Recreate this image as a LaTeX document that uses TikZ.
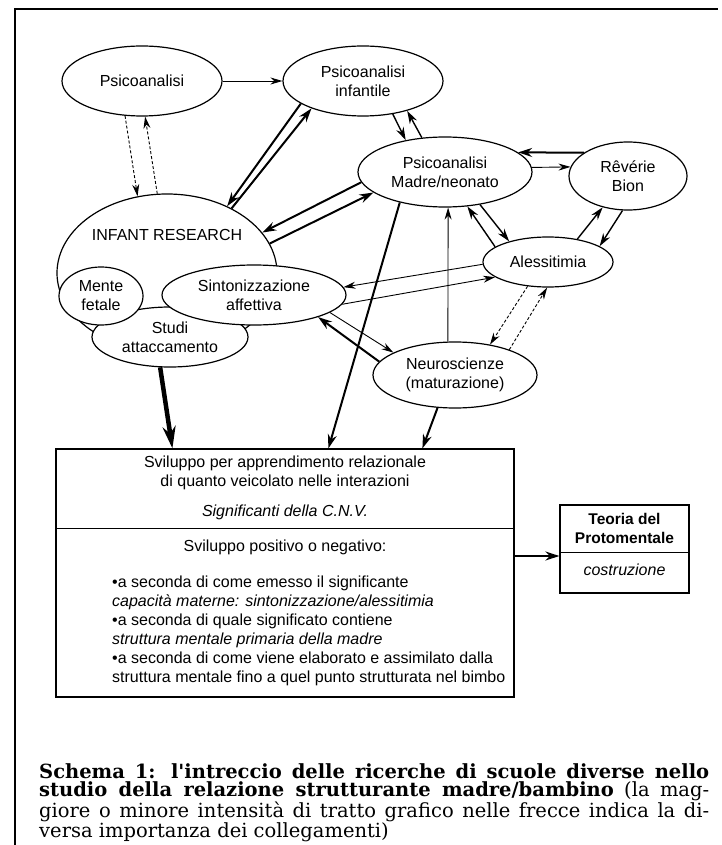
\documentclass[tikz,border=0pt]{standalone}
\usepackage{fontspec}
\setmainfont{Liberation Sans}
\newfontfamily\capfont{DejaVu Serif}
\usetikzlibrary{arrows.meta,shapes.geometric,calc}
\begin{document}
\begin{tikzpicture}[x=1pt,y=-1pt,
  every node/.style={font=\fontsize{16}{19}\selectfont},
  ell/.style={draw, ellipse, fill=white, line width=1.2pt, inner sep=0pt, align=center},
  boxx/.style={draw, rectangle, line width=1.2pt, inner sep=0pt},
  arrthin/.style={line width=0.9pt, -{Stealth[length=12pt,width=7pt]}},
  arrmid/.style={line width=1.4pt, -{Stealth[length=13pt,width=8pt]}},
  arrbold/.style={line width=2pt, -{Stealth[length=14pt,width=9pt]}},
  arrheavy/.style={line width=4.5pt, -{Stealth[length=22pt,width=13pt]}},
  arrdash/.style={line width=0.9pt, dash pattern=on 3pt off 2pt, -{Stealth[length=12pt,width=7pt]}},
]
\useasboundingbox (0,0) rectangle (721,845);
% frame
\draw[line width=1.3pt] (15,845) -- (15,9) -- (718,9);

% ellipses
\node[ell, minimum width=160pt, minimum height=70pt] (ps) at (142,81) {Psicoanalisi};
\node[ell, minimum width=160pt, minimum height=70pt] (psi) at (363,81) {Psicoanalisi\\infantile};
\node[ell, minimum width=174pt, minimum height=70pt] (pmn) at (445,172) {Psicoanalisi\\Madre/neonato};
\node[ell, minimum width=118pt, minimum height=68pt] (rb) at (628,176) {Rêvérie\\Bion};
\node[ell, minimum width=130pt, minimum height=50pt] (al) at (548,262) {Alessitimia};
\node[ell, minimum width=164pt, minimum height=66pt] (ne) at (455,375) {Neuroscienze\\(maturazione)};
\node[ell, minimum width=220pt, minimum height=158pt] (ir) at (167,273) {};
\node (irl) at (167,235) {INFANT RESEARCH};
\node[ell, minimum width=156pt, minimum height=60pt] (st) at (170,337) {Studi\\attaccamento};
\node[ell, minimum width=84pt, minimum height=58pt] (mf) at (101,296) {Mente\\fetale};
\node[ell, minimum width=184pt, minimum height=60pt] (sa) at (254,295) {Sintonizzazione\\affettiva};

% main box
\node[boxx, minimum width=458pt, minimum height=248pt] (main) at (285,573) {};
\draw[line width=1.2pt] ([yshift=-80pt]main.north west) -- ([yshift=-80pt]main.north east);
\node[align=center] (t1) at (285,472.5) {Sviluppo per apprendimento relazionale\\di quanto veicolato nelle interazioni};
\node (t2) at (285,512) {\itshape Significanti della C.N.V.};
\node (t3) at (285,547) {Sviluppo positivo o negativo:};
\node[anchor=west, align=left, inner sep=0pt] (t4) at (112,631) {\textbullet a seconda di come emesso il significante\\
\itshape capacità materne: sintonizzazione/alessitimia\\
\textbullet a seconda di quale significato contiene\\
\itshape struttura mentale primaria della madre\\
\textbullet a seconda di come viene elaborato e assimilato dalla\\
struttura mentale fino a quel punto strutturata nel bimbo};

% teoria box
\node[boxx, minimum width=129pt, minimum height=88pt] (teo) at (624.5,549) {};
\draw[line width=1.2pt] ([yshift=-48pt]teo.north west) -- ([yshift=-48pt]teo.north east);
\node[align=center, font=\fontsize{15.5}{19}\bfseries\selectfont] (teot) at (624.5,528.5) {Teoria del\\Protomentale};
\node (teoc) at (624.5,570) {\itshape costruzione};

% caption
\node[anchor=north west, inner sep=0pt, align=left, font=\capfont\fontsize{19.5}{18.3}\selectfont] (cap) at (39,763)
{\makebox[670pt][s]{\bfseries Schema 1: l'intreccio delle ricerche di scuole diverse nello}\\
\makebox[670pt][s]{\textbf{studio della relazione strutturante madre/bambino} (la mag-}\\
\makebox[670pt][s]{giore o minore intensità di tratto grafico nelle frecce indica la di-}\\
versa importanza dei collegamenti)};

% connectors
\draw[arrthin] (ps.east) -- (psi.west);
\draw[arrdash] (ps.-116) -- (ir.111);
\draw[arrdash] (ir.97) -- (ps.-85);
\draw[arrbold] (psi.-160) -- (ir.48);
\draw[arrbold] (ir.45) -- (psi.-152);
\draw[arrbold] (pmn.-173) -- (ir.23);
\draw[arrbold] (ir.16.5) -- (pmn.-164);
\draw[arrmid] (psi.-48) -- (pmn.141);
\draw[arrmid] (pmn.124) -- (psi.-34);
\draw[arrbold] (rb.152) -- (pmn.15);
\draw[arrthin] (pmn.3) -- (rb.171.5);
\draw[arrmid] (pmn.-43) -- (al.152);
\draw[arrmid] (al.164) -- (pmn.-57);
\draw[arrmid] (al.38) -- (rb.-129.5);
\draw[arrmid] (rb.-99.5) -- (al.17.5);
\draw[arrthin] (al.-178) -- (sa.5);
\draw[arrthin] (sa.-6.4) -- (al.-164);
\draw[arrthin] (ne.102) -- (pmn.-85);
\draw[arrbold] (pmn.-146.6) -- ([xshift=273pt]main.north west);
\draw[arrthin] (sa.-13.7) -- (ne.160);
\draw[arrbold] (ne.170.5) -- (sa.-19.2);
\draw[arrdash] (al.-130) -- (ne.41);
\draw[arrdash] (ne.25.3) -- (al.-92);
\draw[arrbold] (ne.-118) -- ([xshift=367pt]main.north west);
\draw[arrheavy] (st.-108) -- ([xshift=117pt]main.north west);
\coordinate (tarr) at ([yshift=-7pt]teo.west);
\draw[arrbold] (main.east |- tarr) -- (tarr);
\end{tikzpicture}
\end{document}
